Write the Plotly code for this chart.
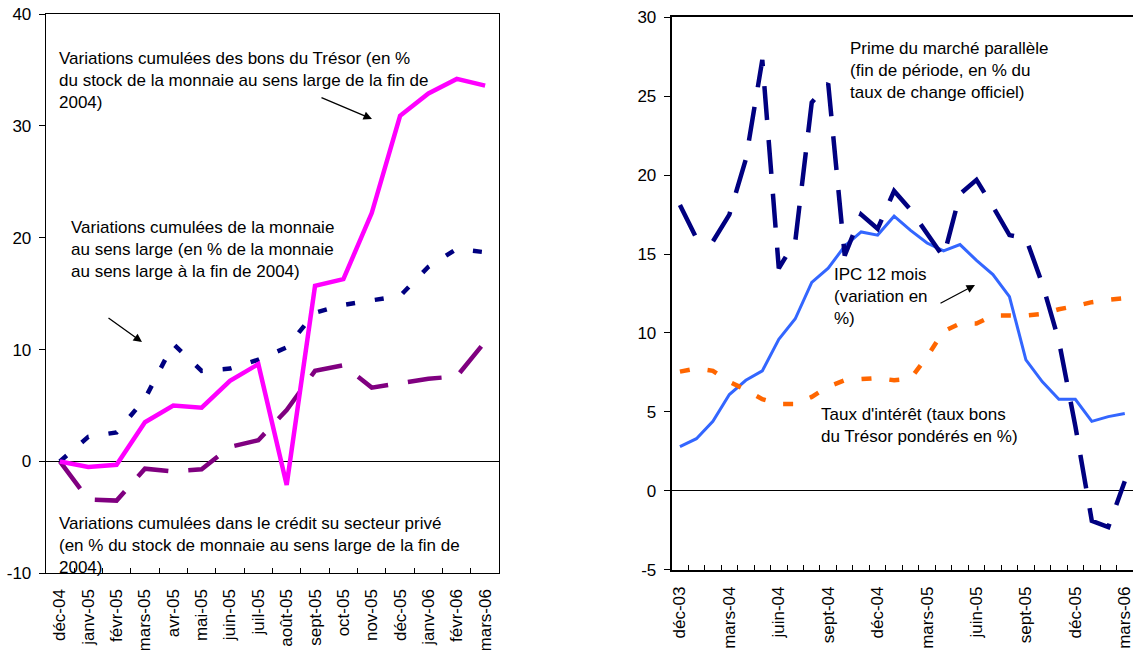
import plotly.graph_objects as go

# ---------------- data: left panel ----------------
months_left = ["déc-04", "janv-05", "févr-05", "mars-05", "avr-05", "mai-05", "juin-05",
               "juil-05", "août-05", "sept-05", "oct-05", "nov-05", "déc-05", "janv-06",
               "févr-06", "mars-06"]
bons_tresor = [0, -0.5, -0.3, 3.5, 5.0, 4.8, 7.2, 8.7, -2.1, 15.7, 16.3, 22.2, 30.9, 32.9, 34.2, 33.6]
monnaie_large = [0, 2.2, 2.6, 5.6, 10.5, 8.1, 8.3, 9.1, 10.2, 13.3, 14.0, 14.4, 14.8, 17.4, 19.0, 18.7]
credit_prive = [0, -3.4, -3.5, -0.65, -0.9, -0.7, 1.3, 1.9, 4.6, 8.1, 8.6, 6.6, 7.0, 7.4, 7.6, 10.7]
left_yticks = [-10, 0, 10, 20, 30, 40]

# ---------------- data: right panel ----------------
months_right = ["déc-03", "janv-04", "févr-04", "mars-04", "avr-04", "mai-04", "juin-04",
                "juil-04", "août-04", "sept-04", "oct-04", "nov-04", "déc-04", "janv-05",
                "févr-05", "mars-05", "avr-05", "mai-05", "juin-05", "juil-05", "août-05",
                "sept-05", "oct-05", "nov-05", "déc-05", "janv-06", "févr-06", "mars-06"]
prime_parallele = [18.1, 16.0, 15.8, 17.5, 21.0, 27.3, 14.1, 15.8, 24.6, 25.8, 14.9, 17.5,
                   16.6, 19.0, 17.8, 16.3, 14.8, 18.8, 19.7, 18.0, 16.2, 16.0, 13.1, 9.5,
                   4.1, -1.9, -2.3, 0.6]
ipc_12_mois = [2.8, 3.3, 4.4, 6.1, 7.0, 7.6, 9.6, 10.9, 13.2, 14.1, 15.5, 16.4, 16.2, 17.4,
               16.5, 15.7, 15.2, 15.6, 14.6, 13.7, 12.3, 8.3, 6.9, 5.8, 5.8, 4.4, 4.7, 4.9]
taux_interet = [7.55, 7.75, 7.6, 6.9, 6.4, 5.8, 5.5, 5.5, 5.95, 6.6, 7.0, 7.1, 7.15, 7.0,
                7.1, 8.5, 10.1, 10.6, 10.6, 11.1, 11.1, 11.1, 11.2, 11.5, 11.7, 11.95, 12.1, 12.2]
right_yticks = [-5, 0, 5, 10, 15, 20, 25, 30]
right_label_step = 3

W, H = 1133, 650
FONT = "Liberation Sans, Arial, sans-serif"

xl = list(range(len(months_left)))
xr = list(range(len(months_right)))

fig = go.Figure()

# left panel traces
fig.add_trace(go.Scatter(x=xl, y=monnaie_large, mode="lines", xaxis="x", yaxis="y",
                         line=dict(color="#000080", width=4.5, dash="9px,20px")))
fig.add_trace(go.Scatter(x=xl, y=credit_prive, mode="lines", xaxis="x", yaxis="y",
                         line=dict(color="#800080", width=4.5, dash="34px,20px")))
fig.add_trace(go.Scatter(x=xl, y=bons_tresor, mode="lines", xaxis="x", yaxis="y",
                         line=dict(color="#FF00FF", width=4.5)))

# right panel traces
fig.add_trace(go.Scatter(x=xr, y=ipc_12_mois, mode="lines", xaxis="x2", yaxis="y2",
                         line=dict(color="#3366FF", width=3)))
fig.add_trace(go.Scatter(x=xr, y=prime_parallele, mode="lines", xaxis="x2", yaxis="y2",
                         line=dict(color="#000080", width=4.5, dash="34px,20px")))
fig.add_trace(go.Scatter(x=xr, y=taux_interet, mode="lines", xaxis="x2", yaxis="y2",
                         line=dict(color="#FF6600", width=4.5, dash="10px,18px")))


def px_x(p):
    return p / W


def px_y(p):
    return 1 - p / H


tickfont = dict(family=FONT, size=17, color="black")

fig.update_layout(
    template="none",
    width=W, height=H,
    margin=dict(l=0, r=0, t=0, b=0, pad=0, autoexpand=False),
    paper_bgcolor="white", plot_bgcolor="white",
    showlegend=False, hovermode=False,
    font=dict(family=FONT, size=17, color="black"),
    xaxis=dict(
        domain=[px_x(45.7), px_x(499.3)], range=[-0.5, len(xl) - 0.5], automargin=False,
        tickmode="array", tickvals=xl, ticktext=months_left, tickangle=-90,
        ticks="", showgrid=False, zeroline=False,
        showline=True, linecolor="black", linewidth=1, mirror=True,
        tickfont=tickfont, ticklabelstandoff=8, ticklabeloverflow="allow",
        minor=dict(tickmode="array", tickvals=[i + 0.5 for i in xl[:-1]],
                   ticks="inside", ticklen=5, tickcolor="black", tickwidth=1, showgrid=False),
        anchor="y", fixedrange=True,
    ),
    yaxis=dict(
        domain=[px_y(573.3), px_y(14)], range=[-10, 40], automargin=False,
        tickmode="array", tickvals=left_yticks, ticktext=[str(v) for v in left_yticks],
        ticks="outside", ticklen=6, tickcolor="black", tickwidth=1,
        showgrid=False, zeroline=True, zerolinecolor="black", zerolinewidth=1,
        showline=True, linecolor="black", linewidth=1, mirror=True,
        tickfont=tickfont, ticklabelstandoff=4,
        anchor="x", fixedrange=True,
    ),
    xaxis2=dict(
        domain=[px_x(671.7), 1.0], range=[-0.5, len(xr) - 0.5], automargin=False,
        tickmode="array", tickvals=xr[::right_label_step],
        ticktext=months_right[::right_label_step], tickangle=-90,
        ticks="", showgrid=False, zeroline=False,
        showline=True, linecolor="black", linewidth=2, mirror=True,
        tickfont=tickfont, ticklabelstandoff=8, ticklabeloverflow="allow",
        minor=dict(tickmode="array", tickvals=[i + 0.5 for i in xr[:-1]],
                   ticks="inside", ticklen=5, tickcolor="black", tickwidth=1, showgrid=False),
        anchor="y2", fixedrange=True,
    ),
    yaxis2=dict(
        domain=[px_y(569.7), px_y(17.3)], range=[-5, 30], automargin=False,
        tickmode="array", tickvals=right_yticks, ticktext=[str(v) for v in right_yticks],
        ticks="outside", ticklen=6, tickcolor="black", tickwidth=1,
        showgrid=False, zeroline=True, zerolinecolor="black", zerolinewidth=1,
        showline=True, linecolor="black", linewidth=2, mirror=False,
        tickfont=tickfont, ticklabelstandoff=4,
        anchor="x2", fixedrange=True,
    ),
)

afont = dict(family=FONT, size=17, color="black")
texts = [
    ("Variations cumulées des bons du Trésor (en %<br>du stock de la monnaie au sens large de la fin de<br>2004)", 58.3, 80),
    ("Variations cumulées de la monnaie<br>au sens large (en % de la monnaie<br>au sens large à la fin de 2004)", 70, 249),
    ("Variations cumulées dans le crédit su secteur privé<br>(en % du stock de monnaie au sens large de la fin de<br>2004)", 58.3, 545),
    ("Prime du marché parallèle<br>(fin de période, en % du<br>taux de change officiel)", 849, 70.7),
    ("IPC 12 mois<br>(variation en<br>%)", 833.3, 296.7),
    ("Taux d'intérêt (taux bons<br>du Trésor pondérés en %)", 820.3, 425.8),
]
for t, x, y in texts:
    fig.add_annotation(text=t, x=px_x(x), y=px_y(y), xref="paper", yref="paper",
                       xanchor="left", yanchor="middle", align="left",
                       showarrow=False, font=afont, borderpad=0)

arrows = [  # head x, head y, tail offset x, tail offset y (pixels)
    (372, 119, -52, -22),
    (142, 342, -35, -25),
    (975, 285, -36, 19),
]
for hx, hy, ax, ay in arrows:
    fig.add_annotation(text="", x=px_x(hx), y=px_y(hy), xref="paper", yref="paper",
                       ax=ax, ay=ay, axref="pixel", ayref="pixel",
                       showarrow=True, arrowhead=2, arrowsize=1.3, arrowwidth=1.3,
                       arrowcolor="black", standoff=0)

fig.write_html(
    "out.html",
    config={"displayModeBar": False, "staticPlot": True},
    post_script="document.body.style.margin='0px';document.body.style.padding='0px';"
                "document.documentElement.style.overflow='hidden';",
)
